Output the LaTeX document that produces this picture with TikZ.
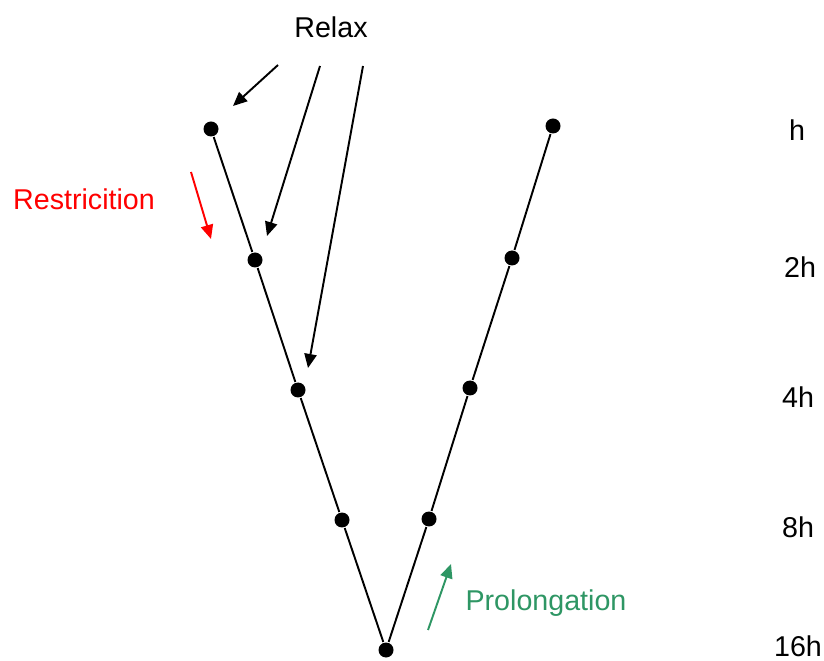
\documentclass[tikz,border=0pt]{standalone}
\usepackage{fontspec}
\setmainfont{Liberation Sans}
\usepackage[dvipsnames]{xcolor}
\usetikzlibrary{arrows.meta}
\definecolor{prolgreen}{RGB}{46,150,100}

\begin{document}
\begin{tikzpicture}
  [x=0.02cm,y=-0.02cm,line width=1.1pt,
   dot/.style={circle,fill=black,inner sep=0pt,minimum size=0.3cm},
   lbl/.style={font=\fontsize{16.3}{19}\selectfont,inner sep=0pt},
   tip/.style={-{Triangle[length=8pt,width=7pt]}}]
  \useasboundingbox (0,0) rectangle (824,661);
  % left branch
  \node[dot] (a1) at (211,129) {};
  \node[dot] (a2) at (255,260) {};
  \node[dot] (a3) at (298,390) {};
  \node[dot] (a4) at (342,520) {};
  \node[dot] (bot) at (386,650) {};
  % right branch
  \node[dot] (b4) at (429,519) {};
  \node[dot] (b3) at (470,388) {};
  \node[dot] (b2) at (512,258) {};
  \node[dot] (b1) at (553,126) {};

  \foreach \from/\to in {a1/a2,a2/a3,a3/a4,a4/bot,bot/b4,b4/b3,b3/b2,b2/b1}
    \draw (\from) -- (\to);

  % grid sizes
  \node[lbl] (h1)  at (797,130) {h};
  \node[lbl] (h2)  at (800,267) {2h};
  \node[lbl] (h4)  at (798,397) {4h};
  \node[lbl] (h8)  at (798,527) {8h};
  \node[lbl] (h16) at (798,646) {16h};

  % relax arrows
  \node[lbl] (relax) at (331,27) {Relax};
  \coordinate (r1) at (278,65);
  \coordinate (r2) at (320,66);
  \coordinate (r3) at (363,66);
  \coordinate (t1) at (233,106);
  \coordinate (t2) at (267,236);
  \coordinate (t3) at (308,368);
  \foreach \from/\to in {r1/t1,r2/t2,r3/t3}
    \draw[tip] (\from) -- (\to);

  % restriction
  \node[lbl,text=red] (restr) at (84,199) {Restricition};
  \coordinate (s1) at (191,172);
  \coordinate (s2) at (211,239);
  \draw[tip,red] (s1) -- (s2);

  % prolongation
  \node[lbl,text=prolgreen] (prol) at (546,603) {Prolongation};
  \coordinate (p1) at (428,630);
  \coordinate (p2) at (451,564);
  \draw[tip,prolgreen] (p1) -- (p2);
\end{tikzpicture}
\end{document}
